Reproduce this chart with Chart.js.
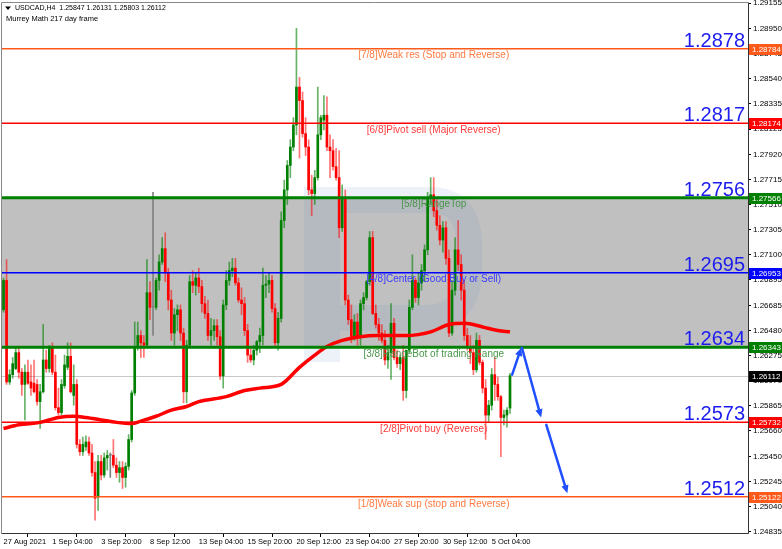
<!DOCTYPE html>
<html>
<head>
<meta charset="utf-8">
<script src="https://cdn.jsdelivr.net/npm/chart.js@4.4.0/dist/chart.umd.min.js"></script>
<style>
  html, body { margin: 0; padding: 0; background: #fff; }
  #wrap { width: 782px; height: 549px; position: relative; }
</style>
</head>
<body>
<div id="wrap"><canvas id="chart"></canvas></div>
<script>
// USDCAD H4 candles
var opens = [
  1.2665, 1.2689, 1.2606, 1.2612, 1.2617, 1.2630, 1.2614, 1.2604, 1.2614, 1.2606,
  1.2605, 1.2604, 1.2590, 1.2598, 1.2624, 1.2617, 1.2635, 1.2614, 1.2585, 1.2581,
  1.2603, 1.2618, 1.2627, 1.2595, 1.2604, 1.2555, 1.2549, 1.2553, 1.2557, 1.2548,
  1.2532, 1.2512, 1.2541, 1.2530, 1.2544, 1.2546, 1.2546, 1.2538, 1.2532, 1.2536,
  1.2528, 1.2537, 1.2559, 1.2597, 1.2634, 1.2644, 1.2638, 1.2636, 1.2679, 1.2667,
  1.2667, 1.2689, 1.2704, 1.2715, 1.2695, 1.2673, 1.2646, 1.2661, 1.2665, 1.2646,
  1.2598, 1.2636, 1.2688, 1.2685, 1.2691, 1.2684, 1.2670, 1.2662, 1.2644, 1.2648,
  1.2652, 1.2643, 1.2611, 1.2669, 1.2689, 1.2697, 1.2699, 1.2687, 1.2673, 1.2670,
  1.2648, 1.2628, 1.2624, 1.2632, 1.2639, 1.2644, 1.2685, 1.2686, 1.2689, 1.2666,
  1.2638, 1.2658, 1.2738, 1.2763, 1.2783, 1.2798, 1.2816, 1.2847, 1.2836, 1.2809,
  1.2798, 1.2763, 1.2760, 1.2773, 1.2808, 1.2820, 1.2824, 1.2798, 1.2795, 1.2782,
  1.2773, 1.2732, 1.2757, 1.2673, 1.2657, 1.2643, 1.2655, 1.2643, 1.2670, 1.2675,
  1.2688, 1.2724, 1.2662, 1.2653, 1.2646, 1.2640, 1.2624, 1.2630, 1.2654, 1.2626,
  1.2621, 1.2626, 1.2599, 1.2632, 1.2667, 1.2689, 1.2675, 1.2687, 1.2697, 1.2714,
  1.2757, 1.2759, 1.2746, 1.2734, 1.2722, 1.2732, 1.2707, 1.2646, 1.2681, 1.2714,
  1.2702, 1.2681, 1.2644, 1.2635, 1.2630, 1.2616, 1.2640, 1.2622, 1.2601, 1.2579,
  1.2587, 1.2612, 1.2604, 1.2594, 1.2577, 1.2579, 1.25847
];
var highs = [
  1.2691, 1.2706, 1.2616, 1.2626, 1.2634, 1.2635, 1.2617, 1.2620, 1.2624, 1.2620,
  1.2624, 1.2608, 1.2604, 1.2653, 1.2632, 1.2636, 1.2638, 1.2628, 1.2601, 1.2608,
  1.2628, 1.2638, 1.2638, 1.2620, 1.2608, 1.2559, 1.2561, 1.2562, 1.2561, 1.2555,
  1.2541, 1.2546, 1.2546, 1.2548, 1.2550, 1.2548, 1.2559, 1.2544, 1.2541, 1.2541,
  1.2540, 1.2563, 1.2599, 1.2655, 1.2655, 1.2648, 1.2644, 1.2706, 1.2688, 1.2761,
  1.2691, 1.2710, 1.2724, 1.2728, 1.2699, 1.2681, 1.2666, 1.2669, 1.2669, 1.2650,
  1.2640, 1.2693, 1.2697, 1.2695, 1.2699, 1.2689, 1.2676, 1.2673, 1.2658, 1.2657,
  1.2657, 1.2648, 1.2673, 1.2697, 1.2704, 1.2707, 1.2707, 1.2691, 1.2683, 1.2675,
  1.2653, 1.2634, 1.2636, 1.2640, 1.2650, 1.2699, 1.2693, 1.2695, 1.2693, 1.2670,
  1.2663, 1.2745, 1.2771, 1.2787, 1.2804, 1.2822, 1.2895, 1.2855, 1.2843, 1.2822,
  1.2804, 1.2775, 1.2779, 1.2847, 1.2824, 1.2840, 1.2839, 1.2808, 1.2804, 1.2797,
  1.2795, 1.2767, 1.2763, 1.2677, 1.2669, 1.2661, 1.2662, 1.2673, 1.2679, 1.2689,
  1.2729, 1.2729, 1.2669, 1.2658, 1.2653, 1.2648, 1.2636, 1.2670, 1.2658, 1.2632,
  1.2628, 1.2636, 1.2632, 1.2673, 1.2710, 1.2691, 1.2695, 1.2702, 1.2718, 1.2761,
  1.2773, 1.2773, 1.2755, 1.2742, 1.2737, 1.2737, 1.2714, 1.2689, 1.2724, 1.2738,
  1.2710, 1.2689, 1.2650, 1.2644, 1.2636, 1.2646, 1.2644, 1.2624, 1.2608, 1.2591,
  1.2617, 1.2626, 1.2610, 1.2595, 1.2583, 1.2585, 1.26131
];
var lows = [
  1.2663, 1.2604, 1.2604, 1.2609, 1.2616, 1.2609, 1.2595, 1.2575, 1.2604, 1.2595,
  1.2597, 1.2587, 1.2568, 1.2597, 1.2614, 1.2614, 1.2612, 1.2583, 1.2579, 1.2579,
  1.2601, 1.2616, 1.2597, 1.2587, 1.2552, 1.2546, 1.2546, 1.2550, 1.2546, 1.2529,
  1.2493, 1.2501, 1.2526, 1.2528, 1.2534, 1.2528, 1.2536, 1.2528, 1.2524, 1.2519,
  1.2520, 1.2534, 1.2557, 1.2595, 1.2632, 1.2626, 1.2626, 1.2634, 1.2657, 1.2644,
  1.2665, 1.2681, 1.2702, 1.2688, 1.2665, 1.2640, 1.2636, 1.2648, 1.2640, 1.2589,
  1.2589, 1.2634, 1.2679, 1.2677, 1.2679, 1.2663, 1.2658, 1.2640, 1.2636, 1.2640,
  1.2636, 1.2608, 1.2601, 1.2665, 1.2685, 1.2692, 1.2685, 1.2671, 1.2661, 1.2644,
  1.2622, 1.2622, 1.2620, 1.2628, 1.2630, 1.2636, 1.2675, 1.2679, 1.2663, 1.2635,
  1.2632, 1.2655, 1.2732, 1.2751, 1.2773, 1.2795, 1.2808, 1.2789, 1.2806, 1.2791,
  1.2759, 1.2742, 1.2751, 1.2771, 1.2804, 1.2812, 1.2795, 1.2773, 1.2779, 1.2771,
  1.2724, 1.2729, 1.2669, 1.2653, 1.2638, 1.2640, 1.2636, 1.2636, 1.2665, 1.2673,
  1.2685, 1.2661, 1.2650, 1.2640, 1.2638, 1.2620, 1.2617, 1.2608, 1.2624, 1.2618,
  1.2616, 1.2591, 1.2593, 1.2630, 1.2665, 1.2671, 1.2669, 1.2681, 1.2688, 1.2710,
  1.2751, 1.2741, 1.2730, 1.2718, 1.2712, 1.2702, 1.2643, 1.2644, 1.2677, 1.2697,
  1.2673, 1.2640, 1.2632, 1.2621, 1.2612, 1.2614, 1.2620, 1.2597, 1.2559, 1.2573,
  1.2583, 1.2591, 1.2591, 1.2545, 1.2571, 1.2569, 1.25803
];
var closes = [
  1.2689, 1.2606, 1.2612, 1.2621, 1.2630, 1.2614, 1.2604, 1.2614, 1.2605, 1.2601,
  1.2598, 1.2590, 1.2598, 1.2624, 1.2617, 1.2635, 1.2614, 1.2585, 1.2581, 1.2604,
  1.2620, 1.2627, 1.2598, 1.2604, 1.2555, 1.2549, 1.2555, 1.2557, 1.2548, 1.2532,
  1.2511, 1.2541, 1.2530, 1.2544, 1.2546, 1.2546, 1.2538, 1.2532, 1.2536, 1.2528,
  1.2537, 1.2559, 1.2597, 1.2634, 1.2644, 1.2638, 1.2636, 1.2679, 1.2667, 1.2667,
  1.2689, 1.2704, 1.2715, 1.2695, 1.2673, 1.2646, 1.2661, 1.2665, 1.2646, 1.2598,
  1.2636, 1.2688, 1.2685, 1.2691, 1.2684, 1.2670, 1.2662, 1.2644, 1.2648, 1.2652,
  1.2643, 1.2611, 1.2669, 1.2689, 1.2697, 1.2699, 1.2687, 1.2673, 1.2670, 1.2648,
  1.2628, 1.2624, 1.2632, 1.2639, 1.2644, 1.2685, 1.2686, 1.2689, 1.2666, 1.2638,
  1.2658, 1.2738, 1.2763, 1.2783, 1.2798, 1.2816, 1.2847, 1.2836, 1.2809, 1.2798,
  1.2763, 1.2760, 1.2773, 1.2808, 1.2822, 1.2824, 1.2798, 1.2795, 1.2782, 1.2773,
  1.2732, 1.2757, 1.2673, 1.2657, 1.2643, 1.2655, 1.2643, 1.2670, 1.2675, 1.2688,
  1.2724, 1.2662, 1.2653, 1.2646, 1.2640, 1.2624, 1.2630, 1.2654, 1.2626, 1.2621,
  1.2626, 1.2599, 1.2632, 1.2667, 1.2689, 1.2675, 1.2687, 1.2697, 1.2714, 1.2757,
  1.2759, 1.2746, 1.2734, 1.2722, 1.2732, 1.2707, 1.2646, 1.2681, 1.2714, 1.2702,
  1.2681, 1.2644, 1.2635, 1.2630, 1.2616, 1.2640, 1.2622, 1.2601, 1.2579, 1.2587,
  1.2612, 1.2604, 1.2594, 1.2577, 1.2579, 1.2583, 1.26112
];

// moving average (red), sampled along the line
var maIndex = [0, 5, 12, 18, 23, 27, 32, 37, 42, 45, 50, 55, 60, 64, 73, 79, 84, 91, 97, 102, 106, 111, 117, 122, 132, 140, 146, 151, 157, 162, 166];
var maValues = [1.2568, 1.2571, 1.2573, 1.2577, 1.2578, 1.2577, 1.2575, 1.2573, 1.2572, 1.2574, 1.2578, 1.2583, 1.2586, 1.2590, 1.2594, 1.2599, 1.2601, 1.2604, 1.2618, 1.2628, 1.2635, 1.2640, 1.2643, 1.2644, 1.2644, 1.2647, 1.2653, 1.2654, 1.2651, 1.2648, 1.2647];

// time axis
var tickIndex = [0, 16, 32, 48, 64, 80, 96, 112, 128, 144, 160];
var tickLabels = ["27 Aug 2021", "1 Sep 04:00", "3 Sep 20:00", "8 Sep 12:00", "13 Sep 04:00", "15 Sep 20:00", "20 Sep 12:00", "23 Sep 04:00", "27 Sep 20:00", "30 Sep 12:00", "5 Oct 04:00"];

// price axis
var priceTicks = [1.29155, 1.28950, 1.28745, 1.28540, 1.28335, 1.28125, 1.27920, 1.27715, 1.27510, 1.27305, 1.27100, 1.26895, 1.26685, 1.26480, 1.26275, 1.26070, 1.25865, 1.25660, 1.25450, 1.25245, 1.25040, 1.24835];

// Murrey Math levels
var levelValues = [1.28784, 1.28174, 1.27566, 1.26953, 1.26343, 1.25732, 1.25122];
var levelNames = ["[7/8]Weak res (Stop and Reverse)", "[6/8]Pivot sell (Major Reverse)", "[5/8]RangeTop", "[4/8]Center (Good Buy or Sell)", "[3/8]RangeBot of trading Range", "[2/8]Pivot buy (Reverse)", "[1/8]Weak sup (stop and Reverse)"];
var levelShort = ["1.2878", "1.2817", "1.2756", "1.2695", "1.2634", "1.2573", "1.2512"];
var levelColors = ["#ff5a1a", "#ff0000", "#008000", "#0000ff", "#008000", "#ff0000", "#ff5a1a"];
var levelTextColors = ["#ff7a40", "#ff3a3a", "#4a964a", "#3a3aff", "#4a964a", "#ff3a3a", "#ff7a40"];
var levelWidths = [1.5, 1.5, 3, 1.5, 3, 1.5, 1.5];
var lastPrice = 1.26112;

// forecast arrows (bar index, price)
var arrowFromIdx = [166.7, 169.9, 177.9];
var arrowFromPrice = [1.2612, 1.2634, 1.2571];
var arrowToIdx = [169.7, 176.2, 184.8];
var arrowToPrice = [1.2634, 1.2577, 1.2515];

var GREEN = "#008000", RED = "#ff0000", GRAY = "#808080";
var SMALL = "'Liberation Sans', Arial, sans-serif";

var wickData = [], bodyData = [], wickColors = [], bodyColors = [];
for (var i = 0; i < opens.length; i++) {
  wickData.push({ x: i, y: [lows[i], highs[i]] });
  bodyData.push({ x: i, y: [Math.min(opens[i], closes[i]), Math.max(opens[i], closes[i])] });
  if (closes[i] > opens[i]) {
    bodyColors.push(GREEN);
    wickColors.push("rgba(0,128,0,0.6)");
  } else if (closes[i] < opens[i]) {
    bodyColors.push(RED);
    wickColors.push("rgba(255,0,0,0.55)");
  } else {
    bodyColors.push(GRAY);
    wickColors.push(GRAY);
  }
}
var maData = maIndex.map(function(x, k) { return { x: x, y: maValues[k] }; });

function drawArrow(ctx, x1, y1, x2, y2) {
  var a = Math.atan2(y2 - y1, x2 - x1);
  var len = 9, w = 0.42;
  ctx.beginPath();
  ctx.moveTo(x1, y1);
  ctx.lineTo(x2 - 5 * Math.cos(a), y2 - 5 * Math.sin(a));
  ctx.stroke();
  ctx.beginPath();
  ctx.moveTo(x2, y2);
  ctx.lineTo(x2 - len * Math.cos(a - w), y2 - len * Math.sin(a - w));
  ctx.lineTo(x2 - len * Math.cos(a + w), y2 - len * Math.sin(a + w));
  ctx.closePath();
  ctx.fill();
}

function noPadding(s) {
  s.paddingTop = 0;
  s.paddingBottom = 0;
  s.paddingLeft = 0;
  s.paddingRight = 0;
}

var overlay = {
  id: "overlay",
  beforeDatasetsDraw: function(chart) {
    var ctx = chart.ctx, a = chart.chartArea, ys = chart.scales.y;
    ctx.save();
    // range zone between [5/8] and [3/8]
    var zTop = ys.getPixelForValue(levelValues[2]);
    var zBot = ys.getPixelForValue(levelValues[4]);
    ctx.fillStyle = "#c0c0c0";
    ctx.fillRect(a.left, zTop, a.right - a.left, zBot - zTop);

    // faint logo watermark
    ctx.fillStyle = "rgba(110,140,200,0.12)";
    ctx.strokeStyle = "rgba(110,140,200,0.12)";
    ctx.fillRect(304, 187, 36, 175);
    ctx.lineWidth = 26;
    ctx.lineJoin = "round";
    ctx.beginPath();
    ctx.moveTo(340, 200);
    ctx.lineTo(430, 200);
    ctx.quadraticCurveTo(469, 200, 469, 245);
    ctx.lineTo(469, 270);
    ctx.quadraticCurveTo(469, 318, 425, 318);
    ctx.lineTo(340, 318);
    ctx.stroke();

    // last price line
    var lp = ys.getPixelForValue(lastPrice);
    ctx.strokeStyle = "#c8c8c8";
    ctx.lineWidth = 1;
    ctx.beginPath();
    ctx.moveTo(a.left, Math.round(lp) + 0.5);
    ctx.lineTo(a.right, Math.round(lp) + 0.5);
    ctx.stroke();
    ctx.restore();
  },
  afterDatasetsDraw: function(chart) {
    var ctx = chart.ctx, a = chart.chartArea, ys = chart.scales.y, xs = chart.scales.x;
    ctx.save();
    var labelX = xs.getPixelForValue(141);
    for (var k = 0; k < levelValues.length; k++) {
      var y = ys.getPixelForValue(levelValues[k]);
      ctx.strokeStyle = levelColors[k];
      ctx.lineWidth = levelWidths[k];
      ctx.beginPath();
      ctx.moveTo(a.left, y);
      ctx.lineTo(a.right, y);
      ctx.stroke();

      ctx.font = "10px " + SMALL;
      ctx.fillStyle = levelTextColors[k];
      ctx.textAlign = "center";
      ctx.textBaseline = "top";
      ctx.fillText(levelNames[k], labelX, y + 2);

      ctx.font = "20px " + SMALL;
      ctx.fillStyle = "#1c1cf0";
      ctx.textAlign = "right";
      ctx.textBaseline = "alphabetic";
      ctx.fillText(levelShort[k], a.right - 3, y - 2);
    }

    // forecast arrows
    ctx.strokeStyle = "#1f4fff";
    ctx.fillStyle = "#1f4fff";
    ctx.lineWidth = 2.5;
    ctx.lineCap = "round";
    for (var j = 0; j < arrowFromIdx.length; j++) {
      drawArrow(ctx,
        xs.getPixelForValue(arrowFromIdx[j]), ys.getPixelForValue(arrowFromPrice[j]),
        xs.getPixelForValue(arrowToIdx[j]), ys.getPixelForValue(arrowToPrice[j]));
    }
    ctx.restore();
  },
  afterDraw: function(chart) {
    var ctx = chart.ctx, a = chart.chartArea, ys = chart.scales.y;
    var n = opens.length - 1;
    ctx.save();
    // frame
    ctx.lineWidth = 1;
    ctx.strokeStyle = "#888";
    ctx.beginPath();
    ctx.moveTo(a.left - 0.5, a.bottom);
    ctx.lineTo(a.left - 0.5, a.top - 0.5);
    ctx.lineTo(a.right, a.top - 0.5);
    ctx.stroke();
    ctx.strokeStyle = "#333";
    ctx.beginPath();
    ctx.moveTo(a.right + 0.5, a.top - 0.5);
    ctx.lineTo(a.right + 0.5, a.bottom + 0.5);
    ctx.lineTo(a.left - 0.5, a.bottom + 0.5);
    ctx.stroke();

    // header
    ctx.fillStyle = "#000";
    ctx.beginPath();
    ctx.moveTo(5, 6.5);
    ctx.lineTo(11, 6.5);
    ctx.lineTo(8, 10);
    ctx.closePath();
    ctx.fill();
    ctx.textAlign = "left";
    ctx.textBaseline = "middle";
    var head = "USDCAD,H4  " + [opens[n], highs[n], lows[n], closes[n]].map(function(v) { return v.toFixed(5); }).join(" ");
    ctx.font = "7px " + SMALL;
    ctx.fillText(head, 15, 8.5);
    ctx.font = "7.5px " + SMALL;
    ctx.fillText("Murrey Math 217 day frame", 6, 19);

    // price boxes on the axis
    ctx.font = "8px " + SMALL;
    var boxVals = levelValues.concat([lastPrice]);
    var boxCols = levelColors.concat(["#000000"]);
    for (var k = 0; k < boxVals.length; k++) {
      var y = Math.round(ys.getPixelForValue(boxVals[k]));
      ctx.fillStyle = boxCols[k];
      ctx.fillRect(a.right + 1, y - 5, 33, 11);
      ctx.fillStyle = "#fff";
      ctx.fillText(boxVals[k].toFixed(5), a.right + 4, y + 0.5);
    }
    ctx.restore();
  }
};

var ctx = document.getElementById("chart").getContext("2d");
var chart = new Chart(ctx, {
  type: "bar",
  data: {
    datasets: [
      {
        type: "line",
        data: maData,
        borderColor: "#ff0000",
        borderWidth: 3.5,
        pointRadius: 0,
        tension: 0.4,
        cubicInterpolationMode: "monotone",
        order: 0
      },
      {
        data: bodyData,
        backgroundColor: bodyColors,
        barThickness: 2,
        minBarLength: 1,
        grouped: false,
        order: 1
      },
      {
        data: wickData,
        backgroundColor: wickColors,
        barThickness: 1,
        grouped: false,
        order: 2
      }
    ]
  },
  options: {
    responsive: true,
    maintainAspectRatio: false,
    animation: false,
    devicePixelRatio: 1,
    layout: { padding: { left: 2, top: 3, right: 0, bottom: 0 } },
    plugins: { legend: { display: false }, tooltip: { enabled: false } },
    scales: {
      x: {
        type: "linear",
        min: -0.5,
        max: 244,
        offset: false,
        border: { display: false },
        grid: { drawOnChartArea: false, drawTicks: true, tickLength: 4, color: "#000" },
        afterBuildTicks: function(s) { s.ticks = tickIndex.map(function(v) { return { value: v }; }); },
        afterFit: function(s) { s.height = 16; noPadding(s); },
        ticks: {
          autoSkip: false,
          maxRotation: 0,
          align: "start",
          padding: 0,
          color: "#000",
          font: { family: SMALL, size: 7.5 },
          callback: function(v, idx) { return tickLabels[idx]; }
        }
      },
      y: {
        position: "right",
        min: 1.24826,
        max: 1.29157,
        border: { display: false },
        grid: { drawOnChartArea: false, drawTicks: true, tickLength: 3, color: "#000" },
        afterBuildTicks: function(s) { s.ticks = priceTicks.map(function(v) { return { value: v }; }); },
        afterFit: function(s) { s.width = 34; noPadding(s); },
        ticks: {
          padding: 2,
          color: "#000",
          font: { family: SMALL, size: 8 },
          callback: function(v) { return Number(v).toFixed(5); }
        }
      }
    }
  },
  plugins: [overlay]
});
</script>
</body>
</html>
